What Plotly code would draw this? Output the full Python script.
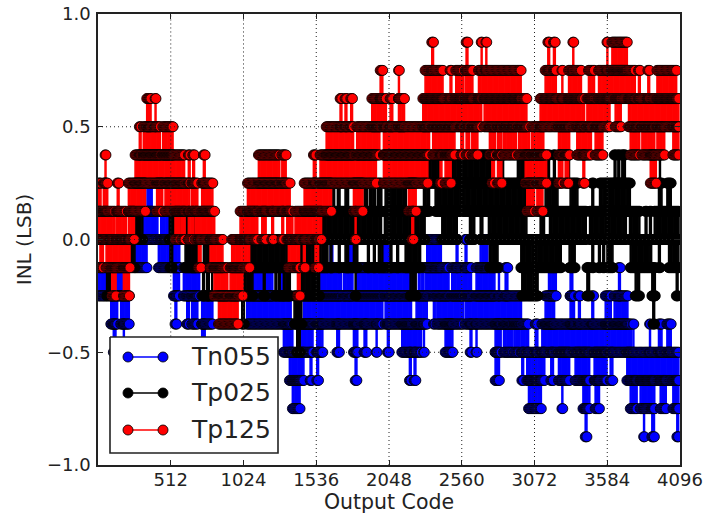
import numpy as np
import plotly.graph_objects as go

x_ticks = [512, 1024, 1536, 2048, 2560, 3072, 3584, 4096]
y_ticks = [-1.0, -0.5, 0.0, 0.5, 1.0]
series_names = ["Tn055", "Tp025", "Tp125"]
series_colors = ["#0000ff", "#000000", "#ff0000"]

# Code spans over which each series toggles between two adjacent INL levels.
# Key = upper level in 1/8 LSB.
tn055_levels = [2, 1, 0, -1, -2, -3, -4, -5, -6]
tn055_spans = [
    [345, 385],
    [319, 425, 442, 503],
    [261, 348, 425, 578, 660, 695, 1634, 1657, 1751, 1798, 2009, 2056, 2314, 2420, 2521, 2537, 2584, 2600, 2690, 2748],
    [3, 61, 132, 179, 531, 578, 601, 718, 1094, 1164, 1176, 1235, 1286, 1305, 1563, 1716, 1728, 1798, 1821, 2056,
     2056, 2197, 2255, 2267, 2279, 2291, 2302, 2474, 2490, 2631, 2661, 2795, 2819, 2830, 2866, 2889, 3171, 3230, 3323, 3342, 3664, 3680],
    [90, 143, 160, 221, 542, 559, 625, 643, 660, 707, 730, 812, 1047, 1364, 1446, 2009, 2021, 2056, 2056, 2209,
     2239, 2319, 2361, 2373, 2385, 2572, 2584, 2983, 3147, 3218, 3323, 3358, 3382, 3398, 3476, 3492, 3570, 3617, 3633, 3734],
    [108, 127, 179, 190, 730, 754, 1305, 1376, 1423, 1516, 1540, 1587, 1681, 1699, 1798, 1833, 1873, 1892, 1958, 1967, 2037, 2049,
     2138, 2279, 2291, 2302, 2443, 2497, 2619, 2631, 2661, 2671, 2795, 2842, 2854, 2920, 2929, 2967, 2976, 3030, 3077, 3100, 3124, 3758, 3765, 3774, 3882, 3891, 3945, 3969, 4004, 4039],
    [1347, 1451, 1493, 1505, 1540, 1552, 1810, 1826, 2192, 2209, 2225, 2239, 2795, 2826, 2983, 3000, 3018, 3147, 3187, 3206, 3241, 3323, 3358, 3464, 3492, 3582, 3605, 3624, 3722, 4093],
    [1368, 1427, 3030, 3124, 3265, 3276, 3413, 3464, 3499, 3530, 3746, 3797, 3816, 3922, 3957, 3999, 4046, 4093],
    [3429, 3445, 3840, 3851, 3898, 3917, 4074, 4089],
]

tp025_levels = [3, 2, 1, 0, -1, -2, -3]
tp025_spans = [
    [2326, 2408, 2490, 2772, 2842, 2854, 2952, 3007, 3159, 3178, 3206, 3218, 3312, 3323, 3633, 3647, 3659, 3675, 3687, 3711, 3952, 3962],
    [1653, 1669, 1685, 1704, 1739, 1763, 1873, 1897, 1911, 1958, 1967, 1998, 2021, 2056, 2056, 2173, 2291, 2333, 2373, 3018,
     3147, 3241, 3323, 3382, 3476, 3492, 3530, 3746, 3945, 3969, 4004, 4039],
    [261, 319, 502, 542, 578, 589, 613, 636, 672, 683, 1575, 1998, 2016, 2056, 2056, 2302, 2420, 2532, 2615, 2654, 2690, 2713,
     2748, 3023, 3112, 3147, 3178, 3436, 3460, 3722, 3741, 3816, 3851, 3863, 3882, 3898, 3915, 4093],
    [230, 261, 507, 526, 613, 707, 742, 789, 1071, 1340, 1427, 1446, 1458, 1528, 1552, 1622, 1634, 1646, 1692, 1704, 1739, 1763,
     1798, 1833, 1897, 1911, 1939, 1951, 1974, 2009, 2056, 2068, 2103, 2115, 2162, 2272, 2755, 2819, 2976, 3241, 3248, 3260,
     3316, 3358, 3476, 3492, 3523, 3539, 3553, 3570, 3582, 3624, 3746, 3898, 3945, 3962, 4016, 4093],
    [61, 97, 737, 754, 765, 784, 801, 812, 1024, 1094, 1164, 1176, 1246, 1258, 1270, 1286, 1305, 1357, 1427, 1563, 1810, 1821,
     2197, 2244, 2983, 3100, 3441, 3464, 3781, 3816, 3898, 3922, 4070, 4086],
    [1012, 1035, 1380, 1434, 3905, 3922],
    [1399, 1423],
]

tp125_levels = [7, 6, 5, 4, 3, 2, 1, 0, -1, -2]
tp125_spans = [
    [2349, 2366, 2591, 2603, 2697, 2708, 2730, 2741, 3166, 3178, 3206, 3218, 3342, 3352, 3582, 3593, 3617, 3727],
    [1986, 2009, 2115, 2126, 2302, 2431, 2478, 2490, 2518, 2572, 2584, 2643, 2678, 2983, 3147, 3230, 3265, 3276, 3312, 3405,
     3452, 3499, 3523, 3781, 3804, 3821, 3870, 3882, 3934, 4074],
    [343, 378, 402, 413, 1704, 1716, 1739, 1751, 1779, 1791, 1927, 2033, 2056, 2079, 2115, 2162, 2286, 2701, 2718, 3018,
     3112, 3429, 3441, 3605, 3640, 3687, 3734, 4093],
    [291, 303, 319, 442, 456, 531, 1606, 1798, 1821, 1986, 2009, 2333, 2356, 2514, 2554, 2577, 2591, 2615, 2631, 2678,
     2755, 2802, 2812, 2842, 2854, 2948, 2960, 3042, 3053, 3140, 3241, 3319, 3370, 3476, 3499, 3553, 3746, 3816, 3828, 3922, 3934, 3992, 4046, 4093],
    [50, 61, 261, 613, 636, 648, 667, 683, 742, 754, 1129, 1282, 1294, 1329, 1516, 1535, 1563, 1962, 2009, 2326,
     2408, 2420, 2443, 2490, 2772, 2795, 2812, 2842, 3007, 3159, 3241, 3276, 3288, 3312, 3413, 3429, 3887, 3934],
    [3, 26, 38, 73, 136, 150, 214, 338, 413, 460, 472, 648, 660, 707, 730, 812, 1052, 1352, 1451, 1646, 1798, 1868,
     2185, 2244, 3018, 3077, 3089, 3136],
    [3, 120, 127, 202, 214, 261, 542, 578, 589, 613, 636, 672, 683, 824, 1000, 1024, 1028, 1129, 1153, 1188, 1223, 1235,
     1294, 1310, 1329, 1376, 1387, 1575, 1810, 1821, 2209, 2225],
    [14, 38, 57, 230, 707, 730, 789, 883, 941, 1071, 1340, 1423, 1446, 1458, 1528, 1552],
    [97, 132, 179, 221, 817, 918, 930, 1024, 1404, 1423],
    [848, 988],
]

STEP = 6


def toggles(levels, spans):
    """Every crossing in the read spans becomes one vertical up/down segment."""
    rows = []
    for lev, sp in zip(levels, spans):
        for a, b in zip(sp[0::2], sp[1::2]):
            for c in np.arange(a, b + 1, STEP):
                rows.append((int(c), lev))
    rows.sort()
    xs, ys = [], []
    for c, lev in rows:
        xs += [c, c, None]
        ys += [lev / 8, (lev - 1) / 8, None]
    return xs, ys


fig = go.Figure()
marker_line = dict(color="black", width=0.85)
for name, color, (lv, sp) in zip(
    series_names, series_colors,
    [(tn055_levels, tn055_spans), (tp025_levels, tp025_spans), (tp125_levels, tp125_spans)],
):
    xs, ys = toggles(lv, sp)
    fig.add_trace(go.Scatter(
        x=xs, y=ys, mode="lines+markers", name=name, showlegend=False,
        line=dict(color=color, width=1.6),
        marker=dict(color=color, size=10, line=marker_line),
    ))

# Legend drawn on a pixel-like overlay so each sample can show two markers.
fig.add_trace(go.Scatter(
    x=[110, 278, 278, 110, 110], y=[337, 337, 453, 453, 337], xaxis="x2", yaxis="y2",
    mode="lines", fill="toself", fillcolor="white", line=dict(color="#222222", width=1.6),
    showlegend=False, hoverinfo="skip",
))
for name, color, yy in zip(series_names, series_colors, [357, 393, 430]):
    fig.add_trace(go.Scatter(
        x=[128, 163], y=[yy, yy], xaxis="x2", yaxis="y2", mode="lines+markers", showlegend=False,
        line=dict(color=color, width=1.6),
        marker=dict(color=color, size=10, line=marker_line),
    ))
    fig.add_annotation(x=189, y=yy - 1, xref="x2", yref="y2", text=name, showarrow=False,
                       xanchor="left", yanchor="middle",
                       font=dict(family="DejaVu Sans", size=25, color="#222222"))

# Dotted grid sits above the marks in the reference, and behind the legend.
grid = dict(color="#222222", width=1, dash="1px,3px")
for v in x_ticks[:-1]:
    y0 = -0.43 if v < 1267 else -1
    fig.add_shape(type="line", xref="x", yref="y", x0=v, x1=v, y0=y0, y1=1, line=grid, layer="above")
fig.add_shape(type="line", xref="x", yref="y", x0=1267, x1=4096, y0=-0.5, y1=-0.5, line=grid, layer="above")
for v in [0.0, 0.5]:
    fig.add_shape(type="line", xref="x", yref="y", x0=0, x1=4096, y0=v, y1=v, line=grid, layer="above")

axis_common = dict(showgrid=False, zeroline=False, showline=True, linecolor="#222222", linewidth=1.6,
                   mirror="ticks", ticks="inside", ticklen=5, tickwidth=1, tickcolor="#222222",
                   tickfont=dict(family="DejaVu Sans", size=18, color="#222222"))
fig.update_layout(
    width=704, height=515, margin=dict(l=98, r=24, t=14, b=50, autoexpand=False),
    paper_bgcolor="white", plot_bgcolor="white", showlegend=False,
    font=dict(family="DejaVu Sans", color="#222222"),
    xaxis=dict(range=[0, 4096], tickvals=x_ticks, ticktext=[str(v) for v in x_ticks], ticklabelstandoff=-2,
               title=dict(text="Output Code", font=dict(size=20.5), standoff=2), **axis_common),
    yaxis=dict(range=[-1, 1], tickvals=y_ticks, tickformat=".1f", ticklabelstandoff=2,
               title=dict(text="INL (LSB)", font=dict(size=20), standoff=10), **axis_common),
    xaxis2=dict(range=[98, 680], overlaying="x", anchor="y2", visible=False, fixedrange=True),
    yaxis2=dict(range=[465, 14], overlaying="y", anchor="x2", visible=False, fixedrange=True),
)
fig.write_html("out.html", config={"displayModeBar": False}, post_script="document.body.style.margin='0';")
